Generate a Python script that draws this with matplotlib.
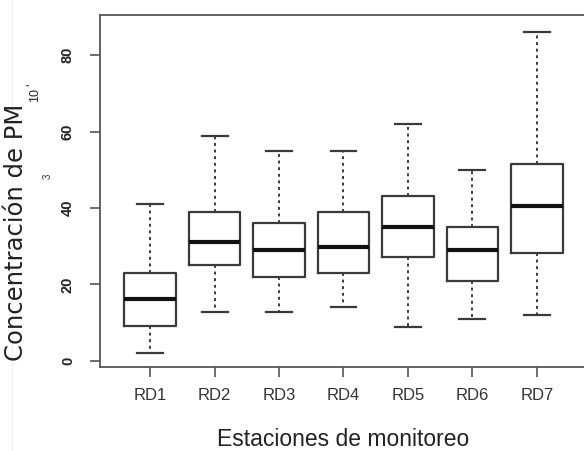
import matplotlib
matplotlib.use("Agg")
import matplotlib.pyplot as plt
from matplotlib.lines import Line2D

plt.rcParams['font.family'] = ['Liberation Sans', 'DejaVu Sans']

# ---- data ----
stations = ["RD1", "RD2", "RD3", "RD4", "RD5", "RD6", "RD7"]
whisker_low = [2.0, 12.9, 12.9, 14.2, 9.0, 10.9, 12.0]
q1 = [9.1, 25.1, 21.9, 22.9, 27.1, 21.0, 28.2]
median = [16.1, 31.0, 29.0, 29.9, 35.1, 29.0, 40.5]
q3 = [22.9, 39.0, 36.1, 39.0, 43.1, 35.1, 51.4]
whisker_high = [41.0, 58.8, 55.0, 55.0, 61.9, 49.9, 86.1]
yticks = [0, 20, 40, 60, 80]

W, H = 584, 451
fig = plt.figure(figsize=(W / 100, H / 100), dpi=100)
fig.patch.set_facecolor('white')

def fx(px):
    return px / W

def fy(py):
    return 1 - py / H

ax = fig.add_axes([fx(100), fy(367), 487 / W, 352 / H])

stats = []
for i, name in enumerate(stations):
    stats.append(dict(label=name, med=median[i], q1=q1[i], q3=q3[i],
                      whislo=whisker_low[i], whishi=whisker_high[i], fliers=[]))

boxc = '#3a3a3a'
ax.bxp(stats, positions=range(1, len(stations) + 1), widths=0.8, capwidths=0.4,
       showfliers=False,
       boxprops=dict(color=boxc, linewidth=1.6),
       medianprops=dict(color='#111111', linewidth=3.0, solid_capstyle='butt'),
       whiskerprops=dict(color=boxc, linewidth=1.4, linestyle=(0, (1.5, 1.9))),
       capprops=dict(color=boxc, linewidth=1.6))

ax.set_xlim(0.22, 7.78)
ax.set_ylim(-1.57, 90.46)
ax.set_xticks(range(1, len(stations) + 1))
ax.set_xticklabels(stations)
ax.set_yticks(yticks)
ax.set_yticklabels([str(v) for v in yticks])

for s in ax.spines.values():
    s.set_color('#555555')
    s.set_linewidth(1.3)

ax.tick_params(axis='x', length=7.2, width=1.2, color='#555555', pad=8,
               labelsize=12, labelcolor='#333333')
ax.tick_params(axis='y', length=7.2, width=1.2, color='#555555', pad=10.8,
               labelsize=10.5, labelcolor='#222222', labelrotation=90)
for lab in ax.get_yticklabels():
    lab.set_va('center')
    lab.set_fontweight('bold')

# axis labels
fig.text(fx(343.5), fy(446), "Estaciones de monitoreo", ha='center', va='baseline',
         fontsize=16.5, color='#222222')
fig.text(fx(22.7), fy(361), "Concentración de PM", rotation=90, rotation_mode='anchor',
         ha='left', va='baseline', fontsize=17.5, color='#222222',
         family=['DejaVu Sans'])
fig.text(fx(38), fy(102), "10", rotation=90, rotation_mode='anchor',
         ha='left', va='baseline', fontsize=9, color='#222222')
fig.text(fx(34), fy(86), "'", rotation=90, rotation_mode='anchor',
         ha='left', va='baseline', fontsize=9, color='#222222')
fig.text(fx(51), fy(176), "3", rotation=90, rotation_mode='anchor',
         ha='center', va='baseline', fontsize=7, color='#333333')

# faint frame line at the left edge
fig.add_artist(Line2D([fx(12), fx(12)], [0, 1], transform=fig.transFigure,
                      color='#f1f1f1', linewidth=1))

fig.savefig("out.png", dpi=100, facecolor='white')
